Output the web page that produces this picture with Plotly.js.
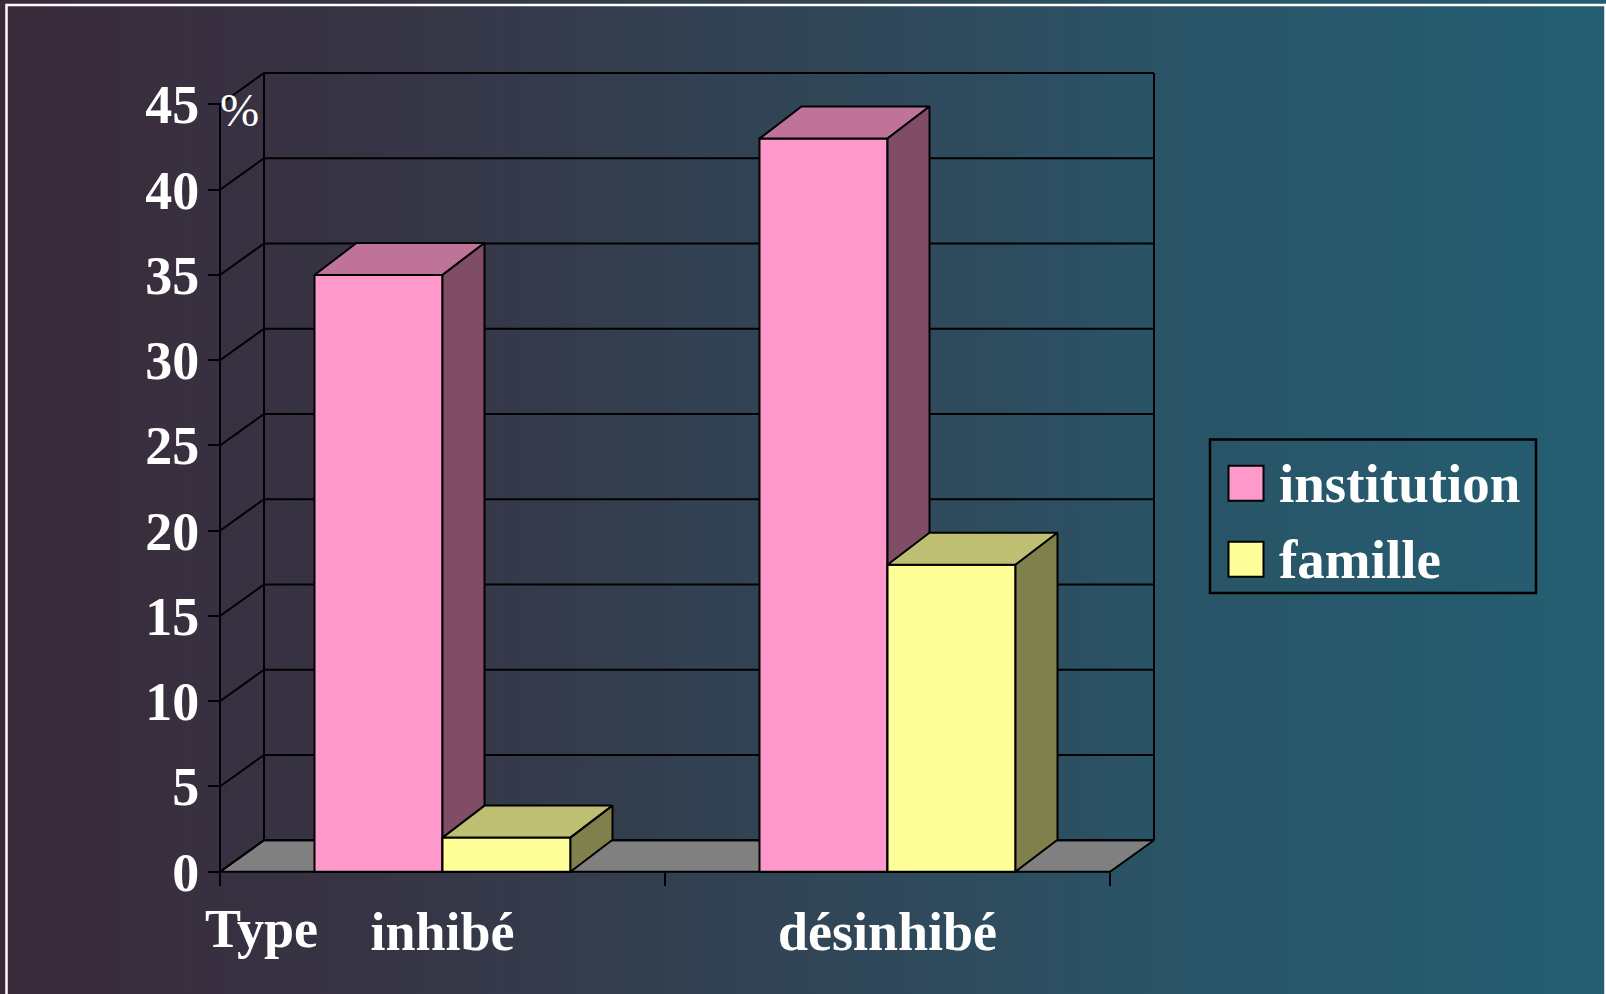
<!DOCTYPE html>
<html>
<head>
<meta charset="utf-8">
<script src="https://cdn.plot.ly/plotly-3.0.1.min.js"></script>
<style>
  html, body { margin: 0; padding: 0; }
  #chart {
    width: 1606px; height: 994px;
    background: linear-gradient(to right, #3a2a3a 0%, #363545 25%, #314556 50%, #2a5366 72%, #245e72 100%);
  }
</style>
</head>
<body>
<div id="chart"></div>
<script>
// ---------------- data ----------------
const categories = ['inhibé', 'désinhibé'];
const seriesNames = ['institution', 'famille'];
const institution = [35, 43];
const famille = [2, 18];
const yTickVals = [0, 5, 10, 15, 20, 25, 30, 35, 40, 45];
const yTickText = ['0', '5', '10', '15', '20', '25', '30', '35', '40', '45'];
const xAxisName = 'Type';
const yUnit = '%';

// ---------------- styles / geometry ----------------
const FONT = 'Liberation Serif, Times New Roman, serif';
const frontColors = ['#ff99cc', '#ffff99'];
const topColors = ['#bf7399', '#bfbf73'];
const sideColors = ['#804d66', '#80804d'];
const LINE = { color: '#000000', width: 2 };

const PX_X = 445, PX_Y = 17.05;          // pixels per category / per value unit
const FRONT_LEFT_PX = 220, ZERO_PX = 871.7;
const PLOT = { l: 207, r: 1167, t: 68, b: 877 };
const xMin = -0.5 - (FRONT_LEFT_PX - PLOT.l) / PX_X;
const xMax = xMin + (PLOT.r - PLOT.l) / PX_X;
const yMinR = -(PLOT.b - ZERO_PX) / PX_Y;
const yMaxR = yMinR + (PLOT.b - PLOT.t) / PX_Y;
const DX = 44 / PX_X, DY = 31.5 / PX_Y;     // floor / wall depth
const BDX = 42 / PX_X, BDY = 32 / PX_Y;     // bar depth
const BAR_W = 128 / PX_X;
const yTop = yTickVals[yTickVals.length - 1];
const xLeft = -0.5, xRight = categories.length - 0.5;

const px2x = px => (px - PLOT.l) / (PLOT.r - PLOT.l);
const px2y = py => (PLOT.b - py) / (PLOT.b - PLOT.t);

const xPos = categories.map((c, i) => i);

// ---------------- frame (floor, walls, gridlines) ----------------
const traces = [];
traces.push({
  type: 'scatter', mode: 'lines', xaxis: 'x', yaxis: 'y',
  x: [xLeft, xRight, xRight + DX, xLeft + DX, xLeft],
  y: [0, 0, DY, DY, 0],
  fill: 'toself', fillcolor: '#808080', line: LINE, hoverinfo: 'skip'
});
const gx = [], gy = [];
yTickVals.forEach(v => {
  gx.push(xLeft, xLeft + DX, xRight + DX, null);
  gy.push(v, v + DY, v + DY, null);
});
gx.push(xLeft + DX, xLeft + DX, null, xRight + DX, xRight + DX, null, xLeft, xLeft);
gy.push(DY, yTop + DY, null, DY, yTop + DY, null, 0, yTop);
traces.push({
  type: 'scatter', mode: 'lines', xaxis: 'x', yaxis: 'y',
  x: gx, y: gy, line: LINE, hoverinfo: 'skip'
});

// ---------------- 3D bars ----------------
function addSeries(values, idx, offset, xa, ya) {
  traces.push({
    type: 'bar', name: seriesNames[idx], xaxis: xa, yaxis: ya,
    x: xPos, y: values, width: BAR_W, offset: offset, base: 0,
    marker: { color: frontColors[idx], line: LINE }, hoverinfo: 'skip'
  });
  const tx = [], ty = [], sx = [], sy = [];
  values.forEach((v, i) => {
    const x0 = xPos[i] + offset, x1 = x0 + BAR_W;
    tx.push(x0, x1, x1 + BDX, x0 + BDX, x0, null);
    ty.push(v, v, v + BDY, v + BDY, v, null);
    sx.push(x1, x1 + BDX, x1 + BDX, x1, x1, null);
    sy.push(0, BDY, v + BDY, v, 0, null);
  });
  traces.push({
    type: 'scatter', mode: 'lines', xaxis: xa, yaxis: ya, x: tx, y: ty,
    fill: 'toself', fillcolor: topColors[idx], line: LINE, hoverinfo: 'skip'
  });
  traces.push({
    type: 'scatter', mode: 'lines', xaxis: xa, yaxis: ya, x: sx, y: sy,
    fill: 'toself', fillcolor: sideColors[idx], line: LINE, hoverinfo: 'skip'
  });
}
addSeries(institution, 0, -BAR_W, 'x2', 'y2');
addSeries(famille, 1, 0, 'x3', 'y3');

// ---------------- layout ----------------
const tickFont = { family: FONT, size: 54, color: '#ffffff', weight: 'bold' };
const legendFont = { family: FONT, size: 55, color: '#ffffff', weight: 'bold' };
const hidden = { range: [xMin, xMax], visible: false, fixedrange: true };
const hiddenY = { range: [yMinR, yMaxR], visible: false, fixedrange: true };

const legendItems = [
  { y0: 465.7, text: seriesNames[0], color: frontColors[0] },
  { y0: 541.7, text: seriesNames[1], color: frontColors[1] }
];

const shapes = [
  // outer white frame
  { type: 'rect', xref: 'paper', yref: 'paper',
    x0: px2x(6.5), x1: px2x(1605.5), y0: px2y(1010), y1: px2y(5),
    line: { color: '#ffffff', width: 2.5 }, fillcolor: 'rgba(0,0,0,0)' },
  // legend box
  { type: 'rect', xref: 'paper', yref: 'paper',
    x0: px2x(1210), x1: px2x(1536), y0: px2y(593), y1: px2y(439.5),
    line: { color: '#000000', width: 2.5 }, fillcolor: 'rgba(0,0,0,0)' }
];
legendItems.forEach(it => {
  shapes.push({ type: 'rect', xref: 'paper', yref: 'paper',
    x0: px2x(1228.5), x1: px2x(1263.5), y0: px2y(it.y0 + 35), y1: px2y(it.y0),
    line: { color: '#000000', width: 2 }, fillcolor: it.color });
});

const annotations = legendItems.map(it => ({
  xref: 'paper', yref: 'paper', x: px2x(1277), y: px2y(it.y0 + 36 - 18.5),
  xanchor: 'left', yanchor: 'middle', showarrow: false, text: it.text,
  font: legendFont
}));
annotations.push({
  xref: 'paper', yref: 'paper', x: px2x(203), y: px2y(947 - 18.2),
  xanchor: 'left', yanchor: 'middle', showarrow: false, text: xAxisName, font: tickFont
});
annotations.push({
  xref: 'paper', yref: 'paper', x: px2x(218), y: px2y(129 - 19),
  xanchor: 'left', yanchor: 'middle', showarrow: false, text: yUnit,
  font: { family: FONT, size: 47, color: '#ffffff' }
});

const layout = {
  width: 1606, height: 994,
  margin: { l: PLOT.l, r: 1606 - PLOT.r, t: PLOT.t, b: 994 - PLOT.b, pad: 0 },
  paper_bgcolor: 'rgba(0,0,0,0)', plot_bgcolor: 'rgba(0,0,0,0)',
  showlegend: false, hovermode: false,
  xaxis: {
    range: [xMin, xMax], domain: [0, 1], fixedrange: true,
    tickmode: 'array', tickvals: xPos, ticktext: categories, ticks: '',
    showgrid: false, zeroline: false, showline: false,
    tickfont: tickFont, ticklabelstandoff: 18
  },
  yaxis: {
    range: [yMinR, yMaxR], fixedrange: true, anchor: 'free',
    position: px2x(FRONT_LEFT_PX),
    tickmode: 'array', tickvals: yTickVals, ticktext: yTickText,
    ticks: 'outside', ticklen: 12, tickwidth: 2, tickcolor: '#000000',
    showgrid: false, zeroline: false, showline: false,
    tickfont: tickFont, ticklabelstandoff: -2
  },
  xaxis2: {
    range: [xMin, xMax], overlaying: 'x', fixedrange: true, anchor: 'free',
    position: (0 - yMinR) / (yMaxR - yMinR),
    tickmode: 'array', tickvals: [-0.5, 0.5, 1.5],
    ticks: 'outside', ticklen: 13, tickwidth: 2, tickcolor: '#000000',
    showticklabels: false, showgrid: false, zeroline: false, showline: false
  },
  yaxis2: Object.assign({ overlaying: 'y' }, hiddenY),
  xaxis3: Object.assign({ overlaying: 'x' }, hidden),
  yaxis3: Object.assign({ overlaying: 'y' }, hiddenY),
  shapes: shapes,
  annotations: annotations
};

Plotly.newPlot('chart', traces, layout, { staticPlot: true, displayModeBar: false });
</script>
</body>
</html>
